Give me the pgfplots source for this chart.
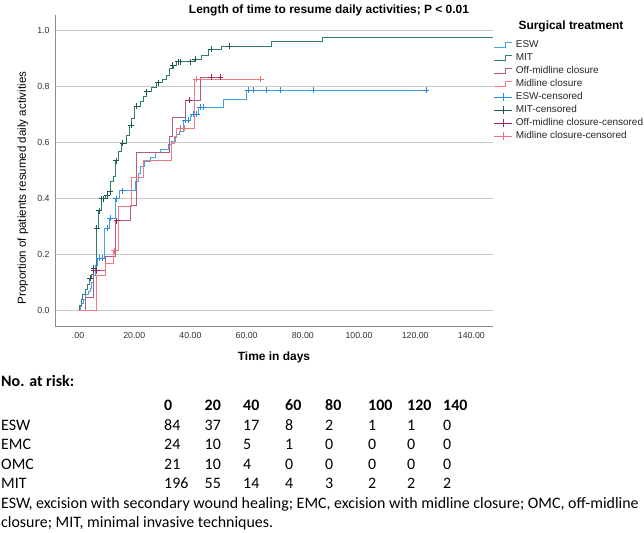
\documentclass[border=0pt]{standalone}
\usepackage{pgfplots}
\pgfplotsset{compat=1.18}
\usepackage{fontspec}
\setmainfont{Liberation Sans}
\newfontfamily\calfont{Carlito}
\definecolor{esw}{RGB}{70,162,226}
\definecolor{mit}{RGB}{46,127,116}
\definecolor{off}{RGB}{181,90,133}
\definecolor{mid}{RGB}{242,123,128}
\definecolor{eswc}{RGB}{43,139,224}
\definecolor{mitc}{RGB}{31,90,80}
\definecolor{offc}{RGB}{160,32,96}
\definecolor{midc}{RGB}{245,110,120}
\definecolor{axgray}{RGB}{140,140,140}
\definecolor{gridgray}{RGB}{200,200,200}
\definecolor{tickc}{RGB}{50,50,50}
\begin{document}
\begin{tikzpicture}
\path[use as bounding box] (0,0) rectangle (644bp,-533bp);
\begin{axis}[
  at={(55bp,-326bp)}, anchor=south west,
  scale only axis, width=438bp, height=311bp,
  xmin=-8.2, xmax=147.7, ymin=-0.055, ymax=1.055,
  axis lines*=left,
  axis line style={draw=axgray, line width=0.9bp},
  major tick length=0pt,
  xtick={0,20,40,60,80,100,120,140},
  xticklabels={.00,20.00,40.00,60.00,80.00,100.00,120.00,140.00},
  ytick={0,0.2,0.4,0.6,0.8,1.0},
  yticklabels={0.0,0.2,0.4,0.6,0.8,1.0},
  ymajorgrids, grid style={draw=gridgray, line width=0.9bp},
  /pgf/number format/assume math mode=true,
  tick label style={font=\fontsize{8.8}{10}\selectfont, text=tickc},
  xticklabel style={yshift=-3bp},
  yticklabel style={xshift=-2bp},
  every axis plot/.append style={line width=0.9bp},
  legend style={at={(axis description cs:1.0023,0.9196)}, anchor=north west,
    draw=none, fill=none, inner sep=0pt, outer sep=0pt,
    font=\fontsize{10}{12}\selectfont, text=black!85,
    row sep=3.6bp, column sep=0pt,
    nodes={inner sep=0pt, text height=7.2bp, text depth=2.3bp}},
  legend cell align=left,
  /tikz/every odd column/.append style={column sep=3bp},
]
% ---- step curves ----
\addplot[const plot, esw,
  legend image code/.code={\draw[esw,line width=0.9bp] (0bp,-2.6bp)--(11bp,-2.6bp)--(11bp,2.6bp)--(18bp,2.6bp);}]
  coordinates {(0,0)(0.7,0.014)(1.3,0.026)(2.1,0.038)(2.8,0.056)(3.7,0.068)(4.3,0.08)(4.9,0.1)(5.4,0.127)(6.2,0.16)(6.9,0.187)(9.4,0.294)(11.1,0.33)(13.2,0.40)(14.9,0.428)(20.3,0.46)(21.5,0.49)(22.2,0.514)(23.8,0.531)(25.6,0.547)(27.4,0.563)(29.2,0.576)(32.1,0.594)(33.3,0.605)(34.5,0.617)(35.1,0.627)(36.2,0.64)(37.5,0.68)(39.9,0.692)(40.5,0.70)(42.8,0.725)(51.7,0.755)(59.8,0.787)(124,0.787)};
\addlegendentry{ESW}
\addplot[const plot, mit,
  legend image code/.code={\draw[mit,line width=0.9bp] (0bp,-2.6bp)--(11bp,-2.6bp)--(11bp,2.6bp)--(18bp,2.6bp);}]
  coordinates {(0,0)(0.5,0.02)(1.1,0.038)(1.7,0.056)(2.5,0.074)(3.3,0.092)(4.0,0.115)(4.9,0.13)(5.5,0.151)(6.4,0.294)(7.4,0.357)(8.2,0.40)(9.6,0.41)(10.6,0.425)(11.7,0.46)(12.6,0.48)(13.3,0.535)(14.3,0.567)(15.5,0.597)(17.1,0.626)(18.2,0.661)(19.1,0.685)(20.1,0.73)(22.1,0.745)(23.2,0.763)(24.4,0.781)(26.2,0.796)(28.0,0.813)(30.1,0.825)(31.6,0.84)(32.6,0.864)(33.9,0.876)(35.1,0.888)(41.6,0.897)(44,0.912)(46.5,0.932)(51,0.944)(68.9,0.959)(87.1,0.974)(147.7,0.974)};
\addlegendentry{MIT}
\addplot[const plot, off,
  legend image code/.code={\draw[off,line width=0.9bp] (0bp,-2.6bp)--(11bp,-2.6bp)--(11bp,2.6bp)--(18bp,2.6bp);}]
  coordinates {(0,0)(2.6,0.048)(5.4,0.143)(9.6,0.195)(13.4,0.32)(18.7,0.376)(20.8,0.563)(32.7,0.62)(33.7,0.688)(38.1,0.751)(43.7,0.832)(50.6,0.832)};
\addlegendentry{Off-midline closure}
\addplot[const plot, mid,
  legend image code/.code={\draw[mid,line width=0.9bp] (0bp,-2.6bp)--(11bp,-2.6bp)--(11bp,2.6bp)--(18bp,2.6bp);}]
  coordinates {(0,0)(6.6,0.127)(9.6,0.169)(12.6,0.213)(14.4,0.371)(19.1,0.474)(23.3,0.535)(33.3,0.597)(34.3,0.62)(35.1,0.651)(41.6,0.826)(65,0.826)};
\addlegendentry{Midline closure}
% ---- censored marks ----
\addplot[only marks, mark=+, mark size=3bp, eswc, mark options={line width=0.9bp},
  legend image code/.code={\draw[eswc,line width=0.9bp] (0bp,0bp)--(18bp,0bp); \draw[eswc,line width=0.9bp] (9bp,-4bp)--(9bp,4bp);}]
  coordinates {(7.6,0.187)(8.8,0.187)(10.4,0.294)(11.5,0.33)(13.5,0.40)(15.9,0.428)(38.1,0.68)(39.3,0.68)(41.0,0.70)(42.2,0.70)(43.4,0.725)(44.8,0.725)(60.6,0.787)(62.4,0.787)(66.9,0.787)(71.9,0.787)(83.7,0.787)(124,0.787)};
\addlegendentry{ESW-censored}
\addplot[only marks, mark=+, mark size=3bp, mitc, mark options={line width=0.9bp},
  legend image code/.code={\draw[mitc,line width=0.9bp] (0bp,0bp)--(18bp,0bp); \draw[mitc,line width=0.9bp] (9bp,-4bp)--(9bp,4bp);}]
  coordinates {(4.4,0.115)(5.6,0.151)(6.6,0.294)(7.6,0.357)(8.4,0.40)(9.2,0.40)(10.4,0.41)(11.4,0.425)(13.5,0.535)(15.9,0.597)(18.9,0.661)(20.9,0.73)(24.4,0.781)(28.6,0.813)(33.7,0.876)(35.7,0.888)(36.4,0.888)(39.9,0.888)(41.8,0.897)(47.4,0.932)(53.9,0.944)};
\addlegendentry{MIT-censored}
\addplot[only marks, mark=+, mark size=3bp, offc, mark options={line width=0.9bp},
  legend image code/.code={\draw[offc,line width=0.9bp] (0bp,0bp)--(18bp,0bp); \draw[offc,line width=0.9bp] (9bp,-4bp)--(9bp,4bp);}]
  coordinates {(5.6,0.143)(6.6,0.143)(13.7,0.32)(39.5,0.751)(47.5,0.832)(50.6,0.832)};
\addlegendentry{Off-midline closure-censored}
\addplot[only marks, mark=+, mark size=3bp, midc, mark options={line width=0.9bp},
  legend image code/.code={\draw[midc,line width=0.9bp] (0bp,0bp)--(18bp,0bp); \draw[midc,line width=0.9bp] (9bp,-4bp)--(9bp,4bp);}]
  coordinates {(12.9,0.213)(36.4,0.651)(37.9,0.651)(42.1,0.826)(65,0.826)};
\addlegendentry{Midline closure-censored}
\end{axis}
% titles and labels
\node[font=\bfseries\fontsize{12}{14}\selectfont] at (329bp,-10bp) {Length of time to resume daily activities; P < 0.01};
\node[font=\bfseries\fontsize{12}{14}\selectfont, anchor=west] at (515bp,-26.7bp) {Surgical treatment};
\node[font=\bfseries\fontsize{12}{14}\selectfont] at (274bp,-357bp) {Time in days};
\node[font=\fontsize{11.6}{13}\selectfont, rotate=90] at (23bp,-188bp) {Proportion of patients resumed daily activities};
% risk table
\begin{scope}[every node/.style={anchor=base west, inner sep=0pt, font=\calfont\fontsize{16}{19}\selectfont}]
\node[font=\calfont\bfseries\fontsize{16}{19}\selectfont] at (1bp,-386bp) {No. at risk:};
\foreach \x/\v in {164/0,204.5/20,243/40,285/60,325/80,368/100,407/120,443/140}
  \node[font=\calfont\bfseries\fontsize{16}{19}\selectfont] at (\x bp,-410.5bp) {\v};
\node at (1bp,-430bp) {ESW};
\node at (1bp,-449.5bp) {EMC};
\node at (1bp,-469bp) {OMC};
\node at (1bp,-488.5bp) {MIT};
\foreach \x/\v in {164/84,204.5/37,243/17,285/8,325/2,368/1,407/1,443/0}
  \node at (\x bp,-430bp) {\v};
\foreach \x/\v in {164/24,204.5/10,243/5,285/1,325/0,368/0,407/0,443/0}
  \node at (\x bp,-449.5bp) {\v};
\foreach \x/\v in {164/21,204.5/10,243/4,285/0,325/0,368/0,407/0,443/0}
  \node at (\x bp,-469bp) {\v};
\foreach \x/\v in {164/196,204.5/55,243/14,285/4,325/3,368/2,407/2,443/2}
  \node at (\x bp,-488.5bp) {\v};
\node at (1bp,-508bp) {ESW, excision with secondary wound healing; EMC, excision with midline closure; OMC, off-midline};
\node at (1bp,-527bp) {closure; MIT, minimal invasive techniques.};
\end{scope}
\end{tikzpicture}
\end{document}
